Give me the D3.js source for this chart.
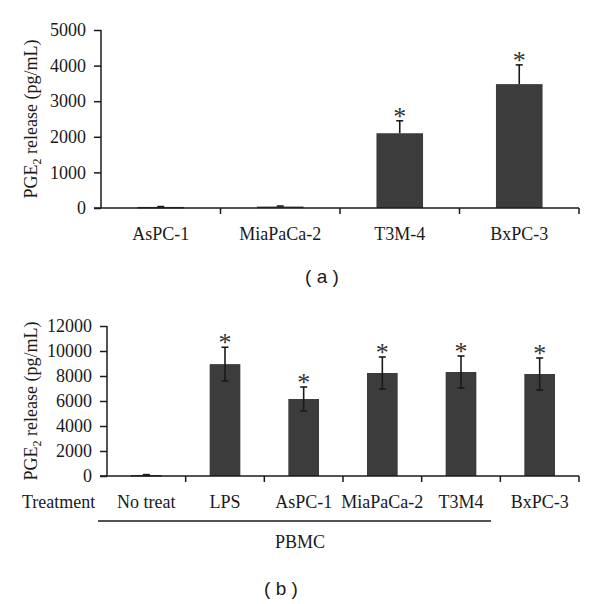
<!DOCTYPE html>
<html>
<head>
<meta charset="utf-8">
<script src="https://cdn.jsdelivr.net/npm/d3@7"></script>
<style>
  body { margin: 0; background: #fff; }
  svg { display: block; }
</style>
</head>
<body>
<script>
// panel (a): PGE2 release by tumour cell lines
const cellLines = ["AsPC-1", "MiaPaCa-2", "T3M-4", "BxPC-3"]
const cellValues = [30, 40, 2100, 3480]
const cellErrors = [10, 15, 350, 540]
const cellSig = [false, false, true, true]
const cellTicks = [0, 1000, 2000, 3000, 4000, 5000]

// panel (b): PGE2 release by PBMC after treatment
const treatments = ["No treat", "LPS", "AsPC-1", "MiaPaCa-2", "T3M4", "BxPC-3"]
const pbmcValues = [80, 8950, 6160, 8240, 8320, 8160]
const pbmcErrors = [30, 1350, 960, 1280, 1280, 1280]
const pbmcSig = [false, true, true, true, true, true]
const pbmcTicks = [0, 2000, 4000, 6000, 8000, 10000, 12000]

const W = 600, H = 604
const serif = "'Liberation Serif', 'DejaVu Serif', serif"
const sans = "'Liberation Sans', Arial, sans-serif"
const barColor = "#3c3c3c"
const ink = "#1a1a1a"
const fs = 18

const svg = d3.select("body").append("svg")
    .attr("width", W)
    .attr("height", H)
    .style("font-family", serif)

function panel(opts) {
    const { cats, values, errors, sig, ticks, x0, x1, y0, y1, yMax, twoSided, labelY, titleX } = opts
    const g = svg.append("g")

    const x = d3.scaleBand().domain(cats).range([x0, x1]).paddingInner(0.61).paddingOuter(0.305)
    const y = d3.scaleLinear().domain([0, yMax]).range([y0, y1])
    const step = x.step()

    // bars
    g.selectAll("rect.bar")
        .data(cats)
        .join("rect")
        .attr("class", "bar")
        .attr("x", d => x(d))
        .attr("width", x.bandwidth())
        .attr("y", (d, i) => y(values[i]))
        .attr("height", (d, i) => Math.max(1.5, y0 - y(values[i])))
        .attr("fill", barColor)

    // error bars
    const eb = g.append("g").attr("stroke", ink).attr("stroke-width", 1.6)
    cats.forEach((c, i) => {
        const cx = x(c) + x.bandwidth() / 2
        const top = y(values[i] + errors[i])
        const bot = twoSided ? y(values[i] - errors[i]) : y(values[i])
        eb.append("line").attr("x1", cx).attr("x2", cx).attr("y1", top).attr("y2", bot)
        eb.append("line").attr("x1", cx - 3.5).attr("x2", cx + 3.5).attr("y1", top).attr("y2", top)
        if (twoSided) eb.append("line").attr("x1", cx - 3.5).attr("x2", cx + 3.5).attr("y1", bot).attr("y2", bot)
        if (sig[i]) {
            g.append("text")
                .attr("x", cx)
                .attr("y", top + 4)
                .attr("text-anchor", "middle")
                .attr("font-size", 26)
                .attr("fill", "#333")
                .text("*")
        }
    })

    // y axis
    const yAxis = g.append("g")
        .attr("transform", `translate(${x0},0)`)
        .call(d3.axisLeft(y).tickValues(ticks).tickSize(7).tickPadding(8).tickFormat(d3.format("d")))
    yAxis.attr("font-family", serif).attr("font-size", fs)
    yAxis.select(".domain").attr("stroke", ink).attr("stroke-width", 1.5).attr("d", `M0,${y1}V${y0}`)
    yAxis.selectAll(".tick line").attr("stroke", ink).attr("stroke-width", 1.5)
    yAxis.selectAll("text").attr("fill", ink)

    // x axis line with ticks at category boundaries
    const xa = g.append("g").attr("stroke", ink).attr("stroke-width", 1.5)
    xa.append("line").attr("x1", x0 - 7).attr("x2", x1).attr("y1", y0).attr("y2", y0)
    d3.range(1, cats.length + 1).forEach(k => {
        const tx = x0 + k * step
        xa.append("line").attr("x1", tx).attr("x2", tx).attr("y1", y0).attr("y2", y0 + 6)
    })

    // category labels
    g.selectAll("text.cat")
        .data(cats)
        .join("text")
        .attr("class", "cat")
        .attr("x", d => x(d) + x.bandwidth() / 2)
        .attr("y", labelY)
        .attr("text-anchor", "middle")
        .attr("font-size", fs)
        .attr("fill", ink)
        .text(d => d)

    // y title
    const t = g.append("text")
        .attr("transform", `translate(${titleX},${(y0 + y1) / 2}) rotate(-90)`)
        .attr("text-anchor", "middle")
        .attr("font-size", fs)
        .attr("fill", ink)
    t.append("tspan").text("PGE")
    t.append("tspan").attr("font-size", 12).attr("dy", 4).text("2")
    t.append("tspan").attr("dy", -4).text(" release (pg/mL)")

    return { x, y }
}

panel({
    cats: cellLines, values: cellValues, errors: cellErrors, sig: cellSig, ticks: cellTicks,
    x0: 101, x1: 579, y0: 208, y1: 30, yMax: 5000, twoSided: false, labelY: 240, titleX: 37
})

panel({
    cats: treatments, values: pbmcValues, errors: pbmcErrors, sig: pbmcSig, ticks: pbmcTicks,
    x0: 107, x1: 579, y0: 476, y1: 326, yMax: 12000, twoSided: true, labelY: 508, titleX: 37
})

// panel (b) extras
svg.append("text")
    .attr("x", 22).attr("y", 508)
    .attr("font-size", fs).attr("fill", ink)
    .text("Treatment")
svg.append("line")
    .attr("x1", 98).attr("x2", 491).attr("y1", 521).attr("y2", 521)
    .attr("stroke", ink).attr("stroke-width", 1.3)
svg.append("text")
    .attr("x", 300).attr("y", 548)
    .attr("text-anchor", "middle")
    .attr("font-size", fs).attr("fill", ink)
    .text("PBMC")

// panel captions
svg.append("text")
    .attr("x", 322).attr("y", 283)
    .attr("text-anchor", "middle")
    .attr("font-family", sans)
    .attr("font-size", 19).attr("fill", ink)
    .attr("xml:space", "preserve")
    .text("( a )")
svg.append("text")
    .attr("x", 281).attr("y", 595)
    .attr("text-anchor", "middle")
    .attr("font-family", sans)
    .attr("font-size", 19).attr("fill", ink)
    .attr("xml:space", "preserve")
    .text("( b )")
</script>
</body>
</html>
